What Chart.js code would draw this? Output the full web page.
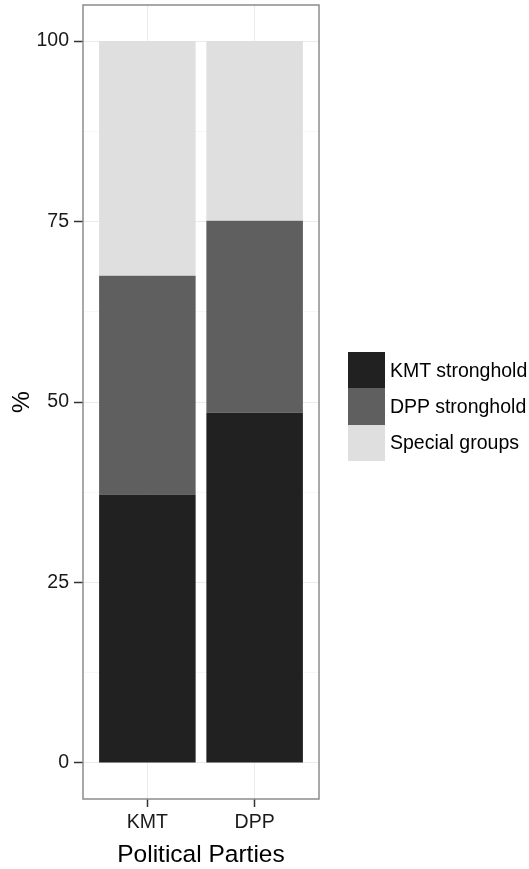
<!DOCTYPE html>
<html>
<head>
<meta charset="utf-8">
<script src="https://cdn.jsdelivr.net/npm/chart.js@4.4.1/dist/chart.umd.min.js"></script>
<style>
    body { margin: 0; background: #fff; }
    #wrap { position: relative; width: 529px; height: 869px; }
    #legend { position: absolute; left: 348px; top: 352px; font-family: "Liberation Sans", Arial, sans-serif; font-size: 19.5px; color: #000; }
    .item { display: flex; align-items: center; height: 36.3px; }
    .key { width: 37px; height: 36.3px; margin-right: 5px; }
</style>
</head>
<body>
<div id="wrap">
    <canvas id="partiesChart" width="529" height="869"></canvas>
    <div id="legend"></div>
</div>
<script>
// Доли по партиям
const parties = ['KMT', 'DPP'];
const seriesNames = ['KMT stronghold', 'DPP stronghold', 'Special groups'];
const kmtStronghold = [37.2, 48.5];
const dppStronghold = [30.3, 26.6];
const specialGroups = [32.5, 24.9];
const yMajorTicks = [0, 25, 50, 75, 100];
const yMinorTicks = [12.5, 37.5, 62.5, 87.5];

const fills = ['#212121', '#5f5f5f', '#dfdfdf'];
const fontFamily = '"Liberation Sans", Arial, sans-serif';

function toPoints(values) {
    return values.map((v, i) => ({ x: i + 1, y: v }));
}

const seriesValues = [kmtStronghold, dppStronghold, specialGroups];

// рамка панели
const panelBorder = {
    id: 'panelBorder',
    afterDatasetsDraw(chart) {
        const { ctx, chartArea } = chart;
        ctx.save();
        ctx.strokeStyle = '#8c8c8c';
        ctx.lineWidth = 1.5;
        ctx.strokeRect(chartArea.left, chartArea.top, chartArea.right - chartArea.left, chartArea.bottom - chartArea.top);
        ctx.restore();
    }
};

function renderPartiesChart() {
    const ctx = document.getElementById('partiesChart').getContext('2d');

    new Chart(ctx, {
        type: 'bar',
        data: {
            datasets: seriesValues.map((values, i) => ({
                label: seriesNames[i],
                data: toPoints(values),
                backgroundColor: fills[i],
                borderWidth: 0,
                barPercentage: 0.9,
                categoryPercentage: 1
            }))
        },
        options: {
            responsive: false,
            animation: false,
            layout: {
                padding: { top: 5, right: 210, left: 0, bottom: 0 }
            },
            plugins: {
                legend: { display: false },
                tooltip: { enabled: false }
            },
            scales: {
                x: {
                    type: 'linear',
                    stacked: true,
                    offset: false,
                    min: 0.4,
                    max: 2.6,
                    afterBuildTicks: (scale) => {
                        scale.ticks = parties.map((p, i) => ({ value: i + 1 }));
                    },
                    afterFit: (scale) => {
                        scale.height = 70;
                        scale.paddingLeft = 0;
                        scale.paddingRight = 0;
                    },
                    border: { display: false },
                    grid: {
                        offset: false,
                        color: '#ebebeb',
                        lineWidth: 1,
                        tickLength: 8,
                        tickColor: '#333',
                        tickWidth: 1.5
                    },
                    ticks: {
                        padding: 4,
                        color: '#1a1a1a',
                        font: { family: fontFamily, size: 19.5 },
                        callback: (value) => parties[Math.round(value) - 1]
                    },
                    title: {
                        display: true,
                        text: 'Political Parties',
                        color: '#000',
                        padding: { top: 0, bottom: 2 },
                        font: { family: fontFamily, size: 24.5, lineHeight: 1 }
                    }
                },
                y: {
                    stacked: true,
                    min: -5,
                    max: 105,
                    afterBuildTicks: (scale) => {
                        scale.ticks = yMajorTicks.concat(yMinorTicks)
                            .sort((a, b) => a - b)
                            .map(v => ({ value: v }));
                    },
                    afterFit: (scale) => {
                        scale.width = 83;
                        scale.paddingTop = 0;
                        scale.paddingBottom = 0;
                    },
                    border: { display: false },
                    grid: {
                        color: (c) => yMajorTicks.includes(c.tick.value) ? '#ebebeb' : '#f7f7f7',
                        lineWidth: 1,
                        tickLength: 9,
                        tickColor: (c) => yMajorTicks.includes(c.tick.value) ? '#333' : 'rgba(0,0,0,0)',
                        tickWidth: 1.5
                    },
                    ticks: {
                        padding: 5,
                        color: '#1a1a1a',
                        font: { family: fontFamily, size: 19.5 },
                        callback: (value) => yMajorTicks.includes(value) ? String(value) : ''
                    },
                    title: {
                        display: true,
                        text: '%',
                        color: '#000',
                        padding: { top: 10, bottom: 0 },
                        font: { family: fontFamily, size: 24.5, lineHeight: 1 }
                    }
                }
            }
        },
        plugins: [panelBorder]
    });
}

function renderLegend() {
    const box = document.getElementById('legend');
    seriesNames.forEach((name, i) => {
        const row = document.createElement('div');
        row.className = 'item';
        const key = document.createElement('div');
        key.className = 'key';
        key.style.background = fills[i];
        const label = document.createElement('span');
        label.textContent = name;
        row.appendChild(key);
        row.appendChild(label);
        box.appendChild(row);
    });
}

renderPartiesChart();
renderLegend();
</script>
</body>
</html>
